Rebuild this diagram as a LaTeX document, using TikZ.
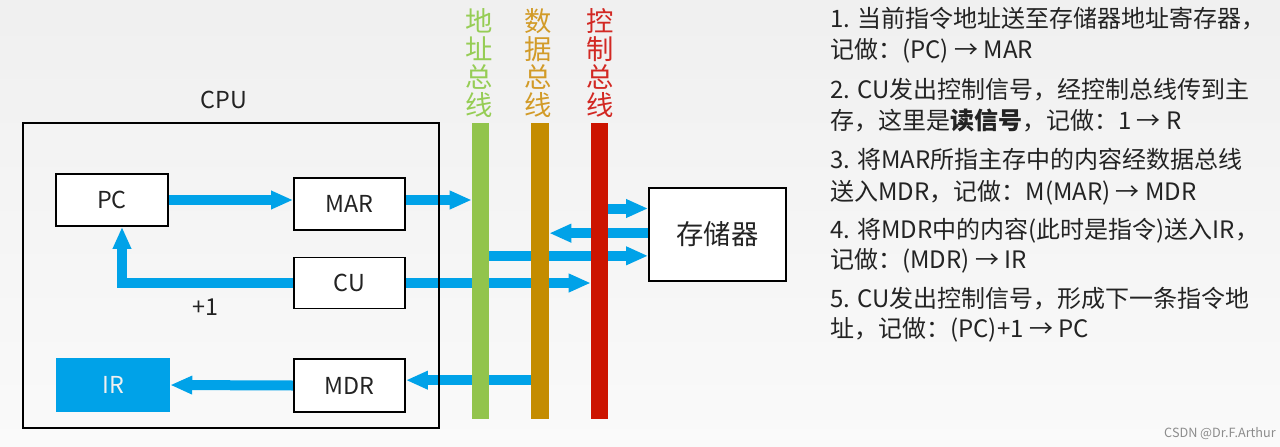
\documentclass[tikz,border=0pt]{standalone}
\usepackage{fontspec}
\setmainfont{Noto Sans CJK SC}
\usepackage{xcolor}
\usetikzlibrary{arrows.meta,backgrounds}
\definecolor{arrowblue}{RGB}{0,162,232}
\definecolor{abusgreen}{RGB}{146,196,76}
\definecolor{abuslabel}{RGB}{150,205,85}
\definecolor{dbusgold}{RGB}{196,140,0}
\definecolor{dbuslabel}{RGB}{210,155,40}
\definecolor{cbusred}{RGB}{204,20,0}
\definecolor{cbuslabel}{RGB}{210,40,35}
\definecolor{textgray}{RGB}{35,35,35}

\tikzset{
  reg/.style={draw=black, line width=1.4pt, fill=white, minimum width=83.25pt,
    minimum height=39pt, inner sep=0pt, text=textgray, font=\fontsize{17.5pt}{20pt}\selectfont},
  bus/.style={inner sep=0pt, minimum height=222pt},
  buslabel/.style={align=center, inner sep=0pt, font=\fontsize{20.5pt}{20.8pt}\selectfont},
  flow/.style={draw=arrowblue, line width=7.5pt, line join=miter,
    -{Triangle[length=16.5pt,width=13pt]}},
  stepline/.style={anchor=base west, inner sep=0pt, text=textgray,
    font=\fontsize{18pt}{20pt}\selectfont}
}

\begin{document}
\begin{tikzpicture}[x=0.75pt, y=-0.75pt]
  \useasboundingbox (0,0) rectangle (1280,446);

  % CPU and its registers
  \node[draw=black, line width=1.4pt, minimum width=312pt, minimum height=228.75pt, inner sep=0pt] (cpu) at (231,275.5) {};
  \node[text=textgray, font=\fontsize{17.5pt}{20pt}\selectfont] (cpulabel) at (224,100) {CPU};
  \node[reg, minimum width=84pt] (pc) at (112,200) {PC};
  \node[reg] (mar) at (349.5,204) {MAR};
  \node[reg, minimum height=38.25pt] (cu) at (349.5,283) {CU};
  \node[reg, minimum height=39.75pt] (mdr) at (349.5,385.5) {MDR};
  \node[fill=arrowblue, text=white!88!gray, minimum width=85.5pt, minimum height=40.5pt, inner sep=0pt,
    font=\fontsize{17.5pt}{20pt}\selectfont] (ir) at (113,385) {IR};
  \node[text=textgray, font=\fontsize{17.5pt}{20pt}\selectfont] (plusone) at (205,307) {+1};

  % buses
  \node[bus, fill=abusgreen, minimum width=12.75pt] (abus) at (480.5,271) {};
  \node[bus, fill=dbusgold, minimum width=13.5pt] (dbus) at (540,271) {};
  \node[bus, fill=cbusred, minimum width=12.75pt] (cbus) at (599.5,271) {};
  \node[buslabel, text=abuslabel] (abuslab) at (479,63) {地\\址\\总\\线};
  \node[buslabel, text=dbuslabel] (dbuslab) at (538,63) {数\\据\\总\\线};
  \node[buslabel, text=cbuslabel] (cbuslab) at (600,63) {控\\制\\总\\线};

  % memory
  \node[reg, minimum width=102.75pt, minimum height=69.75pt, font=\fontsize{20.5pt}{22pt}\selectfont] (mem) at (717.5,234.5) {存储器};

  \coordinate (pcin) at ([xshift=7.5pt]pc.south);
  \coordinate (mdrin) at ([yshift=4pt]mdr.east);
  \coordinate (m1) at ([yshift=19.5pt]mem.west);
  \coordinate (m2) at ([yshift=1pt]mem.west);
  \coordinate (m3) at ([yshift=-16pt]mem.west);

  \begin{scope}[on background layer]
    \shade[top color=black!6, bottom color=black!2] (0,0) rectangle (1280,446);
    \draw[flow] (pc.east) -- (mar.west |- pc.east);
    \draw[flow] (mar.east |- pc.east) -- (abus.west |- pc.east);
    \draw[flow] (cu.west) -| (pcin);
    \draw[flow] (cu.east) -- (cu.east -| cbus.west);
    \draw[flow] (mdr.west) -- (ir.east);
    \draw[flow] (mdrin -| dbus.west) -- (mdrin);
    \draw[flow] (m1 -| cbus.east) -- (m1);
    \draw[flow] (m2) -- (m2 -| dbus.east);
    \draw[flow] (m3 -| abus.east) -- (m3);
  \end{scope}

  % the five steps
  \foreach \y/\t [count=\i] in {27/{1. 当前指令地址送至存储器地址寄存器，},
      58/{记做：(PC) → MAR},
      98/{2. CU发出控制信号，经控制总线传到主},
      129/{存，这里是{\bfseries 读信号}，记做：1 → R},
      168/{3. 将MAR所指主存中的内容经数据总线},
      200/{送入MDR，记做：M(MAR) → MDR},
      238/{4. 将MDR中的内容(此时是指令)送入IR，},
      268/{记做：(MDR) → IR},
      307/{5. CU发出控制信号，形成下一条指令地},
      337/{址，记做：(PC)+1 → PC}}
    \node[stepline] (line\i) at (830,\y) {\t};

  \node[anchor=east, inner sep=0pt, text=black!45, font=\fontsize{9.5pt}{11pt}\selectfont] (mark) at (1276,434) {CSDN @Dr.F.Arthur};
\end{tikzpicture}
\end{document}
